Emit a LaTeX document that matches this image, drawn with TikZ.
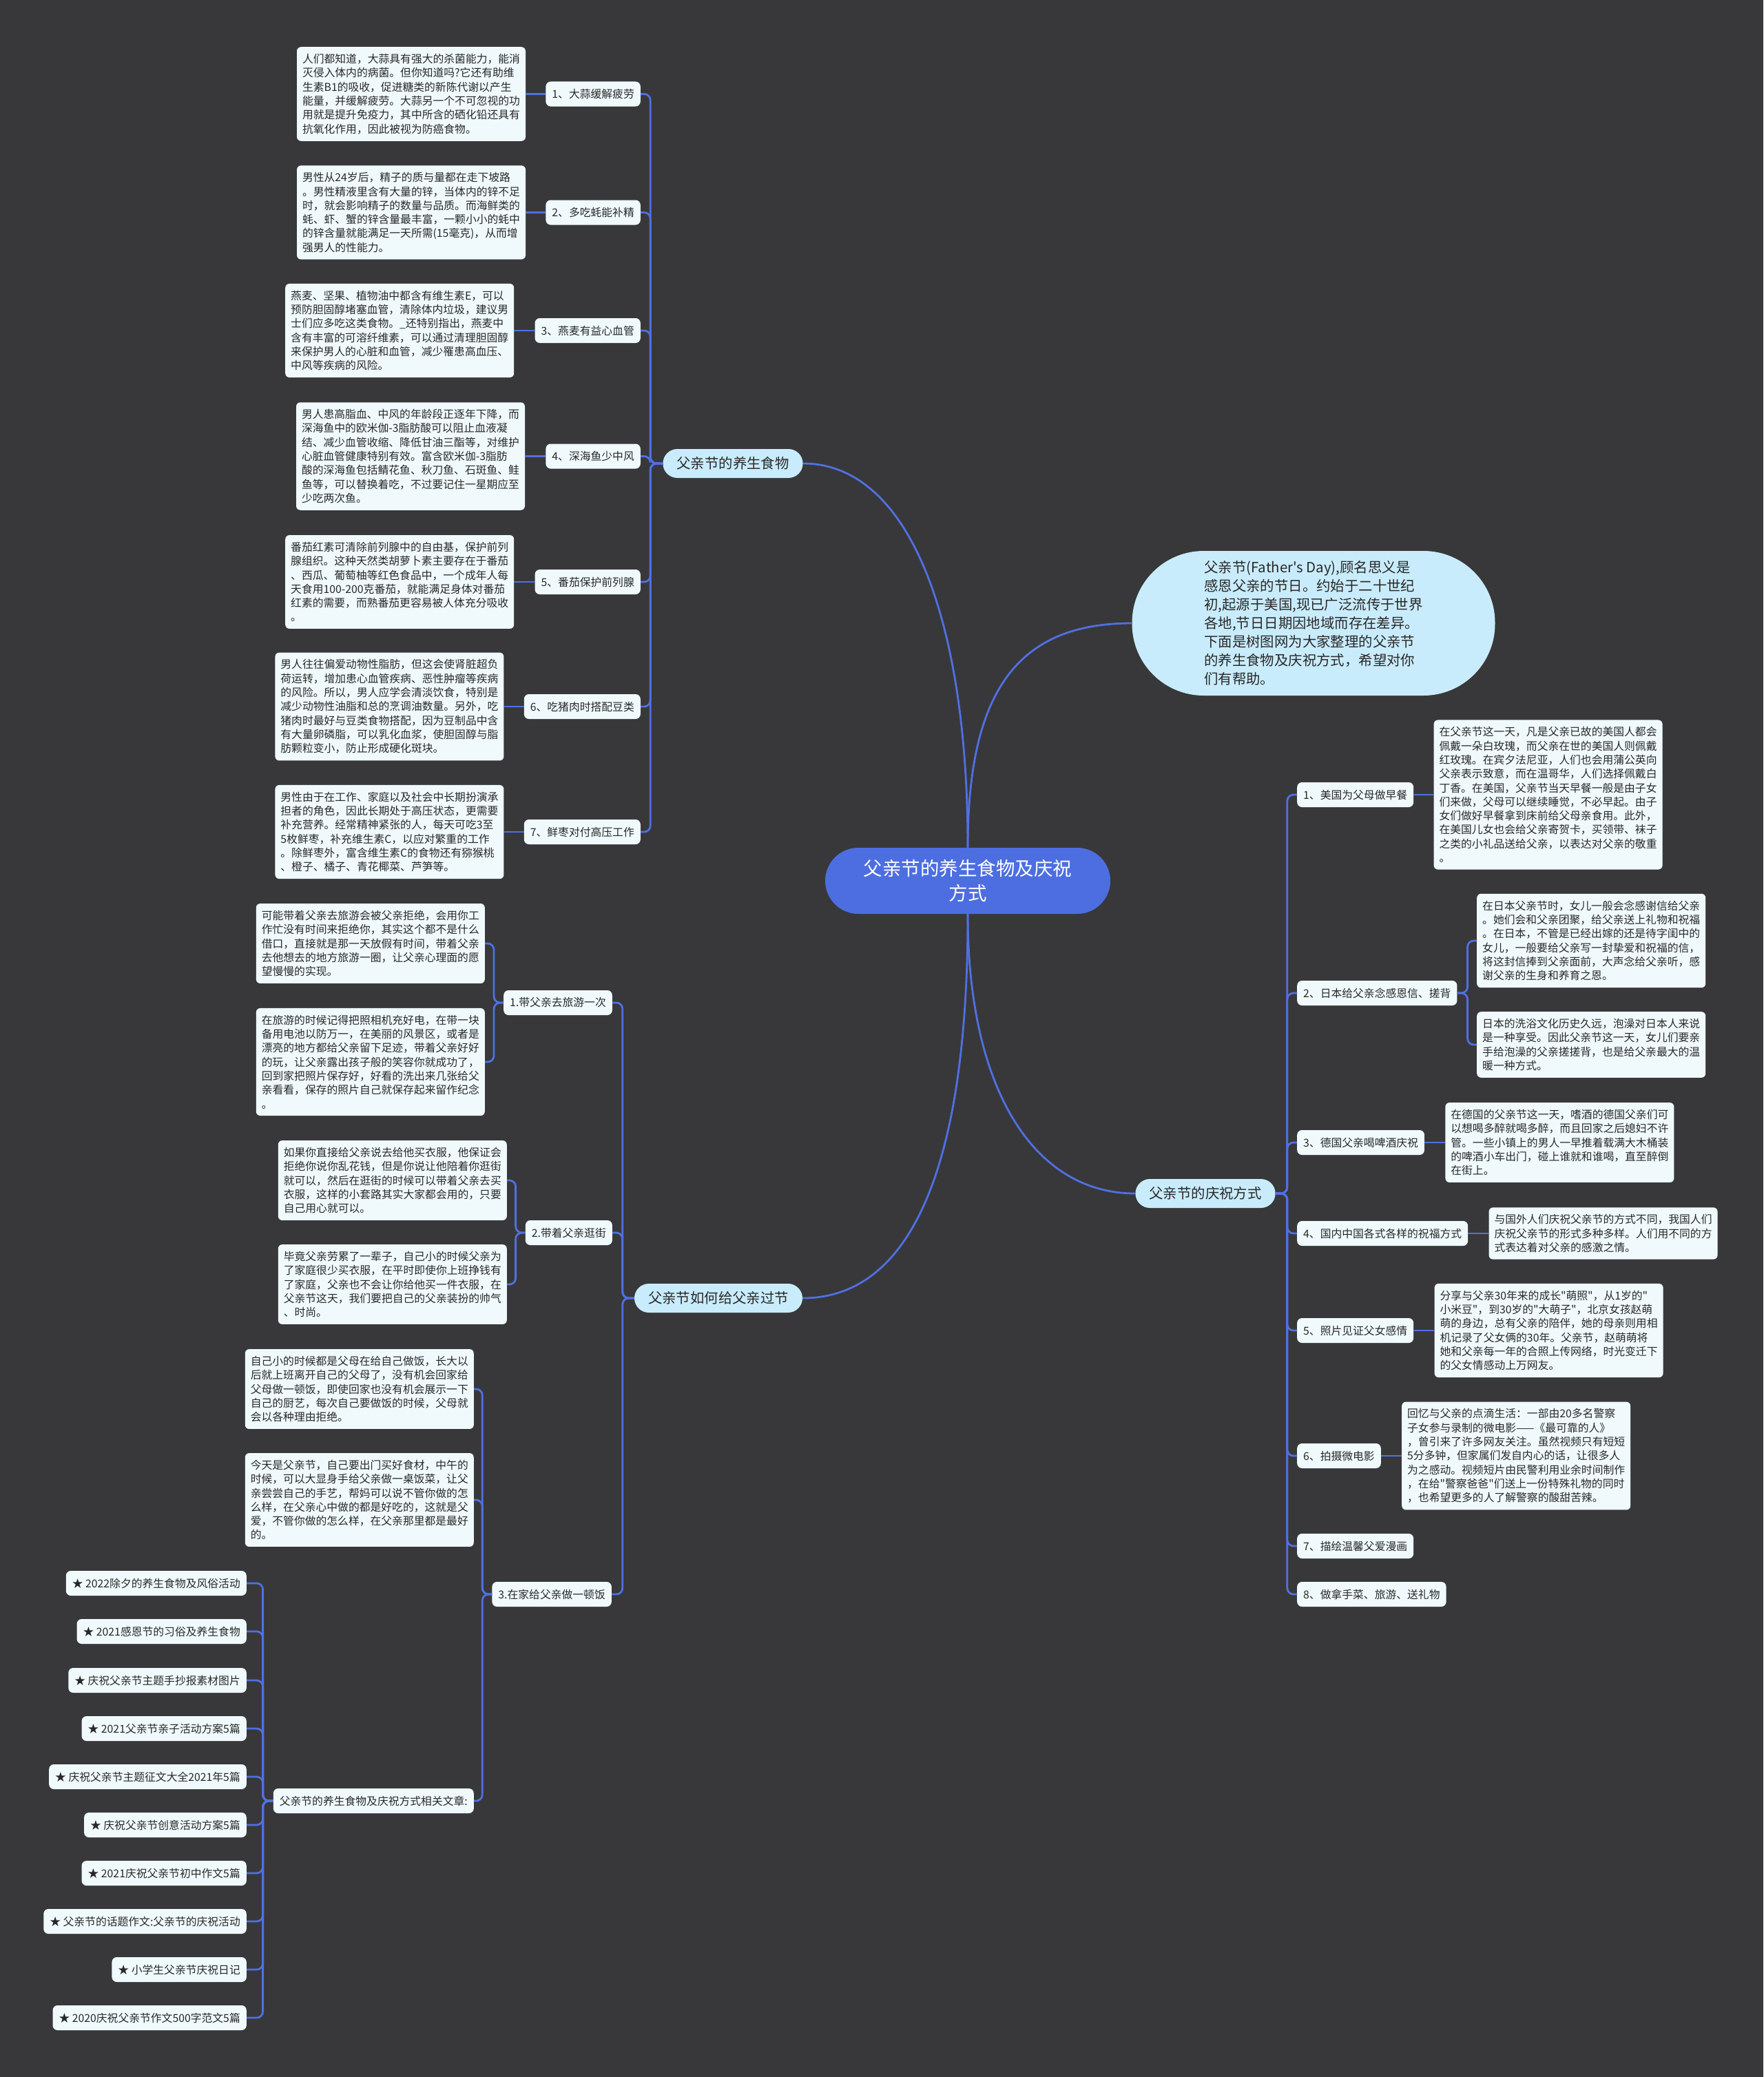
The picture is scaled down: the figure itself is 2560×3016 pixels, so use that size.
\documentclass[tikz,border=0pt]{standalone}
\usepackage{fontspec}
\newfontfamily\zhfont{Noto Sans CJK SC}
\usepackage{tikz}
\usetikzlibrary{positioning}
\definecolor{boardgrey}{RGB}{56,56,58}
\definecolor{rootblue}{RGB}{76,110,225}
\definecolor{branchsky}{RGB}{201,236,252}
\definecolor{leafwhite}{RGB}{240,250,252}
\definecolor{linkblue}{RGB}{80,112,226}
\definecolor{inkgrey}{RGB}{40,40,40}

\begin{document}
\begin{tikzpicture}[x=1pt, y=-1pt,
    rootnode/.style={rectangle, rounded corners=48pt, fill=rootblue, text=white, minimum width=414pt, minimum height=96pt, align=center, font=\zhfont\fontsize{27.5}{36.5}\selectfont},
    intro/.style={rectangle, rounded corners=104pt, fill=branchsky, text=inkgrey, minimum width=527pt, minimum height=210pt, align=left, font=\zhfont\fontsize{20.4}{27}\selectfont},
    branch/.style={rectangle, rounded corners=21pt, fill=branchsky, text=inkgrey, minimum height=42pt, inner xsep=20pt, font=\zhfont\fontsize{20.4}{27}\selectfont},
    tag/.style={rectangle, rounded corners=7pt, fill=leafwhite, text=inkgrey, minimum height=36pt, inner xsep=9pt, font=\zhfont\fontsize{15.8}{20.3}\selectfont},
    leaf/.style={rectangle, rounded corners=6pt, fill=leafwhite, text=inkgrey, align=left, inner xsep=8pt, inner ysep=10pt, font=\zhfont\fontsize{15.8}{20.3}\selectfont},
    link/.style={draw=linkblue, line width=2.8pt, rounded corners=9pt},
    bough/.style={draw=linkblue, line width=2.8pt}
]
    % Board
    \fill[boardgrey] (0,0) rectangle (2560,3016);

    % Centre and intro
    \node[rootnode] (root) at (1405,1279) {父亲节的养生食物及庆祝\\方式};
    \node[intro] (intro) at (1907,905) {父亲节(Father's Day),顾名思义是\\感恩父亲的节日。约始于二十世纪\\初,起源于美国,现已广泛流传于世界\\各地,节日日期因地域而存在差异。\\下面是树图网为大家整理的父亲节\\的养生食物及庆祝方式，希望对你\\们有帮助。};

    % Main branches
    \node[branch] (food) at (1064,673) {父亲节的养生食物};
    \node[branch] (howto) at (1043,1885) {父亲节如何给父亲过节};
    \node[branch] (celeb) at (1750,1733) {父亲节的庆祝方式};

    % Healthy food
    \node[tag, anchor=east] (f1) at (930,136.5) {1、大蒜缓解疲劳};
    \node[tag, anchor=east] (f2) at (930,308.5) {2、多吃蚝能补精};
    \node[tag, anchor=east] (f3) at (930,480) {3、燕麦有益心血管};
    \node[tag, anchor=east] (f4) at (930,662.5) {4、深海鱼少中风};
    \node[tag, anchor=east] (f5) at (930,845) {5、番茄保护前列腺};
    \node[tag, anchor=east] (f6) at (930,1026) {6、吃猪肉时搭配豆类};
    \node[tag, anchor=east] (f7) at (930,1208) {7、鲜枣对付高压工作};

    \node[leaf, left=29pt of f1] (ft1) {人们都知道，大蒜具有强大的杀菌能力，能消\\灭侵入体内的病菌。但你知道吗?它还有助维\\生素B1的吸收，促进糖类的新陈代谢以产生\\能量，并缓解疲劳。大蒜另一个不可忽视的功\\用就是提升免疫力，其中所含的硒化铅还具有\\抗氧化作用，因此被视为防癌食物。};
    \node[leaf, left=29pt of f2] (ft2) {男性从24岁后，精子的质与量都在走下坡路\\。男性精液里含有大量的锌，当体内的锌不足\\时，就会影响精子的数量与品质。而海鲜类的\\蚝、虾、蟹的锌含量最丰富，一颗小小的蚝中\\的锌含量就能满足一天所需(15毫克)，从而增\\强男人的性能力。};
    \node[leaf, left=30pt of f3] (ft3) {燕麦、坚果、植物油中都含有维生素E，可以\\预防胆固醇堵塞血管，清除体内垃圾，建议男\\士们应多吃这类食物。\_还特别指出，燕麦中\\含有丰富的可溶纤维素，可以通过清理胆固醇\\来保护男人的心脏和血管，减少罹患高血压、\\中风等疾病的风险。};
    \node[leaf, left=30pt of f4] (ft4) {男人患高脂血、中风的年龄段正逐年下降，而\\深海鱼中的欧米伽-3脂肪酸可以阻止血液凝\\结、减少血管收缩、降低甘油三酯等，对维护\\心脏血管健康特别有效。富含欧米伽-3脂肪\\酸的深海鱼包括鲭花鱼、秋刀鱼、石斑鱼、鲑\\鱼等，可以替换着吃，不过要记住一星期应至\\少吃两次鱼。};
    \node[leaf, left=30pt of f5] (ft5) {番茄红素可清除前列腺中的自由基，保护前列\\腺组织。这种天然类胡萝卜素主要存在于番茄\\、西瓜、葡萄柚等红色食品中，一个成年人每\\天食用100-200克番茄，就能满足身体对番茄\\红素的需要，而熟番茄更容易被人体充分吸收\\。};
    \node[leaf, left=29pt of f6] (ft6) {男人往往偏爱动物性脂肪，但这会使肾脏超负\\荷运转，增加患心血管疾病、恶性肿瘤等疾病\\的风险。所以，男人应学会清淡饮食，特别是\\减少动物性油脂和总的烹调油数量。另外，吃\\猪肉时最好与豆类食物搭配，因为豆制品中含\\有大量卵磷脂，可以乳化血浆，使胆固醇与脂\\肪颗粒变小，防止形成硬化斑块。};
    \node[leaf, left=29pt of f7] (ft7) {男性由于在工作、家庭以及社会中长期扮演承\\担者的角色，因此长期处于高压状态，更需要\\补充营养。经常精神紧张的人，每天可吃3至\\5枚鲜枣，补充维生素C，以应对繁重的工作\\。除鲜枣外，富含维生素C的食物还有猕猴桃\\、橙子、橘子、青花椰菜、芦笋等。};

    % How to spend the day
    \node[tag, anchor=east] (h1) at (889,1456) {1.带父亲去旅游一次};
    \node[tag, anchor=east] (h2) at (889,1790) {2.带着父亲逛街};
    \node[tag, anchor=east] (h3) at (888,2315) {3.在家给父亲做一顿饭};

    \node[leaf, anchor=east] (h1a) at (704,1370) {可能带着父亲去旅游会被父亲拒绝，会用你工\\作忙没有时间来拒绝你，其实这个都不是什么\\借口，直接就是那一天放假有时间，带着父亲\\去他想去的地方旅游一圈，让父亲心理面的愿\\望慢慢的实现。};
    \node[leaf, anchor=east] (h1b) at (704,1542) {在旅游的时候记得把照相机充好电，在带一块\\备用电池以防万一，在美丽的风景区，或者是\\漂亮的地方都给父亲留下足迹，带着父亲好好\\的玩，让父亲露出孩子般的笑容你就成功了，\\回到家把照片保存好，好看的洗出来几张给父\\亲看看，保存的照片自己就保存起来留作纪念\\。};
    \node[leaf, anchor=east] (h2a) at (736,1714) {如果你直接给父亲说去给他买衣服，他保证会\\拒绝你说你乱花钱，但是你说让他陪着你逛街\\就可以，然后在逛街的时候可以带着父亲去买\\衣服，这样的小套路其实大家都会用的，只要\\自己用心就可以。};
    \node[leaf, anchor=east] (h2b) at (736,1865) {毕竟父亲劳累了一辈子，自己小的时候父亲为\\了家庭很少买衣服，在平时即使你上班挣钱有\\了家庭，父亲也不会让你给他买一件衣服，在\\父亲节这天，我们要把自己的父亲装扮的帅气\\、时尚。};
    \node[leaf, anchor=east] (h3a) at (688,2017) {自己小的时候都是父母在给自己做饭，长大以\\后就上班离开自己的父母了，没有机会回家给\\父母做一顿饭，即使回家也没有机会展示一下\\自己的厨艺，每次自己要做饭的时候，父母就\\会以各种理由拒绝。};
    \node[leaf, anchor=east] (h3b) at (688,2178) {今天是父亲节，自己要出门买好食材，中午的\\时候，可以大显身手给父亲做一桌饭菜，让父\\亲尝尝自己的手艺，帮妈可以说不管你做的怎\\么样，在父亲心中做的都是好吃的，这就是父\\爱，不管你做的怎么样，在父亲那里都是最好\\的。};
    \node[tag, anchor=east] (rel) at (688,2615) {父亲节的养生食物及庆祝方式相关文章:};

    % Related articles
    \node[tag, anchor=east] (a1) at (358,2299) {★ 2022除夕的养生食物及风俗活动};
    \node[tag, anchor=east] (a2) at (358,2369) {★ 2021感恩节的习俗及养生食物};
    \node[tag, anchor=east] (a3) at (358,2440) {★ 庆祝父亲节主题手抄报素材图片};
    \node[tag, anchor=east] (a4) at (358,2510) {★ 2021父亲节亲子活动方案5篇};
    \node[tag, anchor=east] (a5) at (358,2580) {★ 庆祝父亲节主题征文大全2021年5篇};
    \node[tag, anchor=east] (a6) at (358,2650) {★ 庆祝父亲节创意活动方案5篇};
    \node[tag, anchor=east] (a7) at (358,2720) {★ 2021庆祝父亲节初中作文5篇};
    \node[tag, anchor=east] (a8) at (358,2790) {★ 父亲节的话题作文:父亲节的庆祝活动};
    \node[tag, anchor=east] (a9) at (358,2860) {★ 小学生父亲节庆祝日记};
    \node[tag, anchor=east] (a10) at (358,2930) {★ 2020庆祝父亲节作文500字范文5篇};

    % Celebrations
    \node[tag, anchor=west] (c1) at (1883,1154) {1、美国为父母做早餐};
    \node[tag, anchor=west] (c2) at (1883,1442) {2、日本给父亲念感恩信、搓背};
    \node[tag, anchor=west] (c3) at (1883,1659) {3、德国父亲喝啤酒庆祝};
    \node[tag, anchor=west] (c4) at (1883,1791) {4、国内中国各式各样的祝福方式};
    \node[tag, anchor=west] (c5) at (1883,1932) {5、照片见证父女感情};
    \node[tag, anchor=west] (c6) at (1883,2114) {6、拍摄微电影};
    \node[tag, anchor=west] (c7) at (1883,2245) {7、描绘温馨父爱漫画};
    \node[tag, anchor=west] (c8) at (1883,2315) {8、做拿手菜、旅游、送礼物};

    \node[leaf, right=29pt of c1] (ct1) {在父亲节这一天，凡是父亲已故的美国人都会\\佩戴一朵白玫瑰，而父亲在世的美国人则佩戴\\红玫瑰。在宾夕法尼亚，人们也会用蒲公英向\\父亲表示致意，而在温哥华，人们选择佩戴白\\丁香。在美国，父亲节当天早餐一般是由子女\\们来做，父母可以继续睡觉，不必早起。由子\\女们做好早餐拿到床前给父母亲食用。此外，\\在美国儿女也会给父亲寄贺卡，买领带、袜子\\之类的小礼品送给父亲，以表达对父亲的敬重\\。};
    \node[leaf, anchor=west] (c2a) at (2144,1366) {在日本父亲节时，女儿一般会念感谢信给父亲\\。她们会和父亲团聚，给父亲送上礼物和祝福\\。在日本，不管是已经出嫁的还是待字闺中的\\女儿，一般要给父亲写一封挚爱和祝福的信，\\将这封信捧到父亲面前，大声念给父亲听，感\\谢父亲的生身和养育之恩。};
    \node[leaf, anchor=west] (c2b) at (2144,1517) {日本的洗浴文化历史久远，泡澡对日本人来说\\是一种享受。因此父亲节这一天，女儿们要亲\\手给泡澡的父亲搓搓背，也是给父亲最大的温\\暖一种方式。};
    \node[leaf, right=30pt of c3] (ct3) {在德国的父亲节这一天，嗜酒的德国父亲们可\\以想喝多醉就喝多醉，而且回家之后媳妇不许\\管。一些小镇上的男人一早推着载满大木桶装\\的啤酒小车出门，碰上谁就和谁喝，直至醉倒\\在街上。};
    \node[leaf, right=30pt of c4] (ct4) {与国外人们庆祝父亲节的方式不同，我国人们\\庆祝父亲节的形式多种多样。人们用不同的方\\式表达着对父亲的感激之情。};
    \node[leaf, right=30pt of c5] (ct5) {分享与父亲30年来的成长"萌照"，从1岁的"\\小米豆"，到30岁的"大萌子"，北京女孩赵萌\\萌的身边，总有父亲的陪伴，她的母亲则用相\\机记录了父女俩的30年。父亲节，赵萌萌将\\她和父亲每一年的合照上传网络，时光变迁下\\的父女情感动上万网友。};
    \node[leaf, right=30pt of c6] (ct6) {回忆与父亲的点滴生活：一部由20多名警察\\子女参与录制的微电影——《最可靠的人》\\，曾引来了许多网友关注。虽然视频只有短短\\5分多钟，但家属们发自内心的话，让很多人\\为之感动。视频短片由民警利用业余时间制作\\，在给"警察爸爸"们送上一份特殊礼物的同时\\，也希望更多的人了解警察的酸甜苦辣。};

    % Boughs from the centre
    \draw[bough] (root.north) .. controls (1405,900) and (1320,673) .. (food.east);
    \draw[bough] (root.north) .. controls (1405,1000) and (1480,905) .. (intro.west);
    \draw[bough] (root.south) .. controls (1405,1700) and (1320,1885) .. (howto.east);
    \draw[bough] (root.south) .. controls (1405,1580) and (1500,1733) .. (celeb.west);

    % Food links
    \draw[link] (food.west) -- ++(-18,0) |- (f1.east);
    \draw[link] (food.west) -- ++(-18,0) |- (f2.east);
    \draw[link] (food.west) -- ++(-18,0) |- (f3.east);
    \draw[link] (food.west) -- ++(-18,0) |- (f4.east);
    \draw[link] (food.west) -- ++(-18,0) |- (f5.east);
    \draw[link] (food.west) -- ++(-18,0) |- (f6.east);
    \draw[link] (food.west) -- ++(-18,0) |- (f7.east);
    \draw[link] (f1.west) -- (ft1.east);
    \draw[link] (f2.west) -- (ft2.east);
    \draw[link] (f3.west) -- (ft3.east);
    \draw[link] (f4.west) -- (ft4.east);
    \draw[link] (f5.west) -- (ft5.east);
    \draw[link] (f6.west) -- (ft6.east);
    \draw[link] (f7.west) -- (ft7.east);

    % How-to links
    \draw[link] (howto.west) -- ++(-17,0) |- (h1.east);
    \draw[link] (howto.west) -- ++(-17,0) |- (h2.east);
    \draw[link] (howto.west) -- ++(-17,0) |- (h3.east);
    \draw[link] (h1.west) -- ++(-14,0) |- (h1a.east);
    \draw[link] (h1.west) -- ++(-14,0) |- (h1b.east);
    \draw[link] (h2.west) -- ++(-14,0) |- (h2a.east);
    \draw[link] (h2.west) -- ++(-14,0) |- (h2b.east);
    \draw[link] (h3.west) -- ++(-14,0) |- (h3a.east);
    \draw[link] (h3.west) -- ++(-14,0) |- (h3b.east);
    \draw[link] (h3.west) -- ++(-14,0) |- (rel.east);
    \draw[link] (rel.west) -- ++(-15,0) |- (a1.east);
    \draw[link] (rel.west) -- ++(-15,0) |- (a2.east);
    \draw[link] (rel.west) -- ++(-15,0) |- (a3.east);
    \draw[link] (rel.west) -- ++(-15,0) |- (a4.east);
    \draw[link] (rel.west) -- ++(-15,0) |- (a5.east);
    \draw[link] (rel.west) -- ++(-15,0) |- (a6.east);
    \draw[link] (rel.west) -- ++(-15,0) |- (a7.east);
    \draw[link] (rel.west) -- ++(-15,0) |- (a8.east);
    \draw[link] (rel.west) -- ++(-15,0) |- (a9.east);
    \draw[link] (rel.west) -- ++(-15,0) |- (a10.east);

    % Celebration links
    \draw[link] (celeb.east) -- ++(17,0) |- (c1.west);
    \draw[link] (celeb.east) -- ++(17,0) |- (c2.west);
    \draw[link] (celeb.east) -- ++(17,0) |- (c3.west);
    \draw[link] (celeb.east) -- ++(17,0) |- (c4.west);
    \draw[link] (celeb.east) -- ++(17,0) |- (c5.west);
    \draw[link] (celeb.east) -- ++(17,0) |- (c6.west);
    \draw[link] (celeb.east) -- ++(17,0) |- (c7.west);
    \draw[link] (celeb.east) -- ++(17,0) |- (c8.west);
    \draw[link] (c1.east) -- (ct1.west);
    \draw[link] (c2.east) -- ++(15,0) |- (c2a.west);
    \draw[link] (c2.east) -- ++(15,0) |- (c2b.west);
    \draw[link] (c3.east) -- (ct3.west);
    \draw[link] (c4.east) -- (ct4.west);
    \draw[link] (c5.east) -- (ct5.west);
    \draw[link] (c6.east) -- (ct6.west);
\end{tikzpicture}
\end{document}
